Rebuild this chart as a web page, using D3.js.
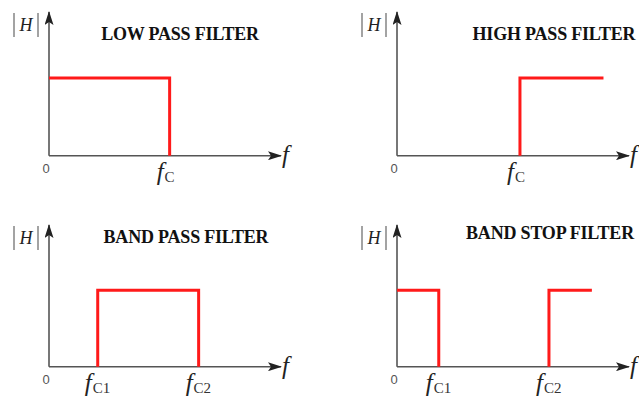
<!DOCTYPE html>
<html>
<head>
<meta charset="utf-8">
<script src="https://cdn.jsdelivr.net/npm/d3@7"></script>
<style>
  body { margin: 0; background: #fff; }
  svg { display: block; }
  text { font-family: "Liberation Serif", "Times New Roman", Times, serif; }
  .title { font-weight: bold; font-size: 18px; fill: #111; letter-spacing: -0.2px; }
  .lbl { font-style: italic; fill: #222; }
  .zero { font-family: "Liberation Sans", Arial, sans-serif; font-size: 13px; fill: #555; }
</style>
</head>
<body>
<div id="chart"></div>
<script>
// filter names
var titles = ["LOW PASS FILTER", "HIGH PASS FILTER", "BAND PASS FILTER", "BAND STOP FILTER"];

// response segments: frequency (0..10 scale) and gain |H|
var lowFreq  = [0, 5.2, 5.2],  lowGain  = [1, 1, 0];
var highFreq = [5.3, 5.3, 8.9], highGain = [0, 1, 1];
var bandFreq = [2.1, 2.1, 6.45, 6.45], bandGain = [0, 1, 1, 0];
var stopFreqA = [0, 1.8, 1.8],  stopGainA = [1, 1, 0];
var stopFreqB = [6.55, 6.55, 8.4], stopGainB = [0, 1, 1];

// cutoff tick labels
var lowTicks  = [{f: 5.2, s: "C"}];
var highTicks = [{f: 5.3, s: "C"}];
var bandTicks = [{f: 2.1, s: "C1"}, {f: 6.45, s: "C2"}];
var stopTicks = [{f: 1.8, s: "C1"}, {f: 6.55, s: "C2"}];

var W = 639, H = 397;
var svg = d3.select("#chart").append("svg")
  .attr("width", W)
  .attr("height", H);

var defs = svg.append("defs");
defs.append("marker")
  .attr("id", "arrow")
  .attr("viewBox", "0 0 14 9")
  .attr("refX", 13).attr("refY", 4.5)
  .attr("markerWidth", 14).attr("markerHeight", 9)
  .attr("markerUnits", "userSpaceOnUse")
  .attr("orient", "auto")
  .append("path")
  .attr("d", "M0,0 L14,4.5 L0,9 L3,4.5 Z")
  .attr("fill", "#222");

var panels = [
  {ox: 49,  oy: 155.7, top: 12,  title: titles[0], tx: 180, ty: 40, segs: [[lowFreq, lowGain]], ticks: lowTicks},
  {ox: 397, oy: 155.7, top: 12,  title: titles[1], tx: 554, ty: 40, segs: [[highFreq, highGain]], ticks: highTicks},
  {ox: 49,  oy: 366.7, top: 225, title: titles[2], tx: 186, ty: 243, segs: [[bandFreq, bandGain]], ticks: bandTicks},
  {ox: 397, oy: 366.7, top: 225, title: titles[3], tx: 550, ty: 239, segs: [[stopFreqA, stopGainA], [stopFreqB, stopGainB]], ticks: stopTicks}
];

panels.forEach(function(p) {
  var g = svg.append("g");
  var x = d3.scaleLinear().domain([0, 10]).range([p.ox, p.ox + 232]);
  var y = d3.scaleLinear().domain([0, 1.8]).range([p.oy, p.top + 4]);

  // axes
  g.append("line")
    .attr("x1", p.ox).attr("y1", p.oy)
    .attr("x2", x(10)).attr("y2", p.oy)
    .attr("stroke", "#555").attr("stroke-width", 1.6)
    .attr("marker-end", "url(#arrow)");
  g.append("line")
    .attr("x1", p.ox).attr("y1", p.oy)
    .attr("x2", p.ox).attr("y2", p.top)
    .attr("stroke", "#555").attr("stroke-width", 1.6)
    .attr("marker-end", "url(#arrow)");

  // response
  var line = d3.line().x(function(d) { return x(d[0]); }).y(function(d) { return y(d[1]); });
  p.segs.forEach(function(s) {
    var pts = s[0].map(function(f, i) { return [f, s[1][i]]; });
    g.append("path")
      .attr("d", line(pts))
      .attr("fill", "none")
      .attr("stroke", "#ff1a1a")
      .attr("stroke-width", 3)
      .attr("stroke-linejoin", "miter");
  });

  // title
  g.append("text").attr("class", "title")
    .attr("x", p.tx).attr("y", p.ty)
    .attr("text-anchor", "middle")
    .text(p.title);

  // |H|
  g.append("line")
    .attr("x1", p.ox - 35).attr("x2", p.ox - 35)
    .attr("y1", p.top + 1).attr("y2", p.top + 25)
    .attr("stroke", "#666").attr("stroke-width", 1.2);
  g.append("line")
    .attr("x1", p.ox - 11).attr("x2", p.ox - 11)
    .attr("y1", p.top + 1).attr("y2", p.top + 25)
    .attr("stroke", "#666").attr("stroke-width", 1.2);
  g.append("text").attr("class", "lbl")
    .attr("x", p.ox - 23).attr("y", p.top + 19)
    .attr("text-anchor", "middle")
    .attr("font-size", 18)
    .attr("fill", "#2a3560")
    .text("H");

  // f at axis end
  g.append("text").attr("class", "lbl")
    .attr("x", x(10) + 1).attr("y", p.oy + 7)
    .attr("font-size", 25)
    .text("f");

  // zero
  g.append("text").attr("class", "zero")
    .attr("x", p.ox - 3).attr("y", p.oy + 17)
    .attr("text-anchor", "middle")
    .text("0");

  // cutoff labels
  p.ticks.forEach(function(t) {
    var tl = g.append("text").attr("class", "lbl")
      .attr("x", x(t.f) - 13).attr("y", p.oy + 24)
      .attr("font-size", 25);
    tl.append("tspan").text("f");
    tl.append("tspan").attr("font-size", 15).attr("font-style", "normal")
      .attr("dx", 1).attr("dy", 2).attr("fill", "#333").text(t.s);
  });
});
</script>
</body>
</html>
